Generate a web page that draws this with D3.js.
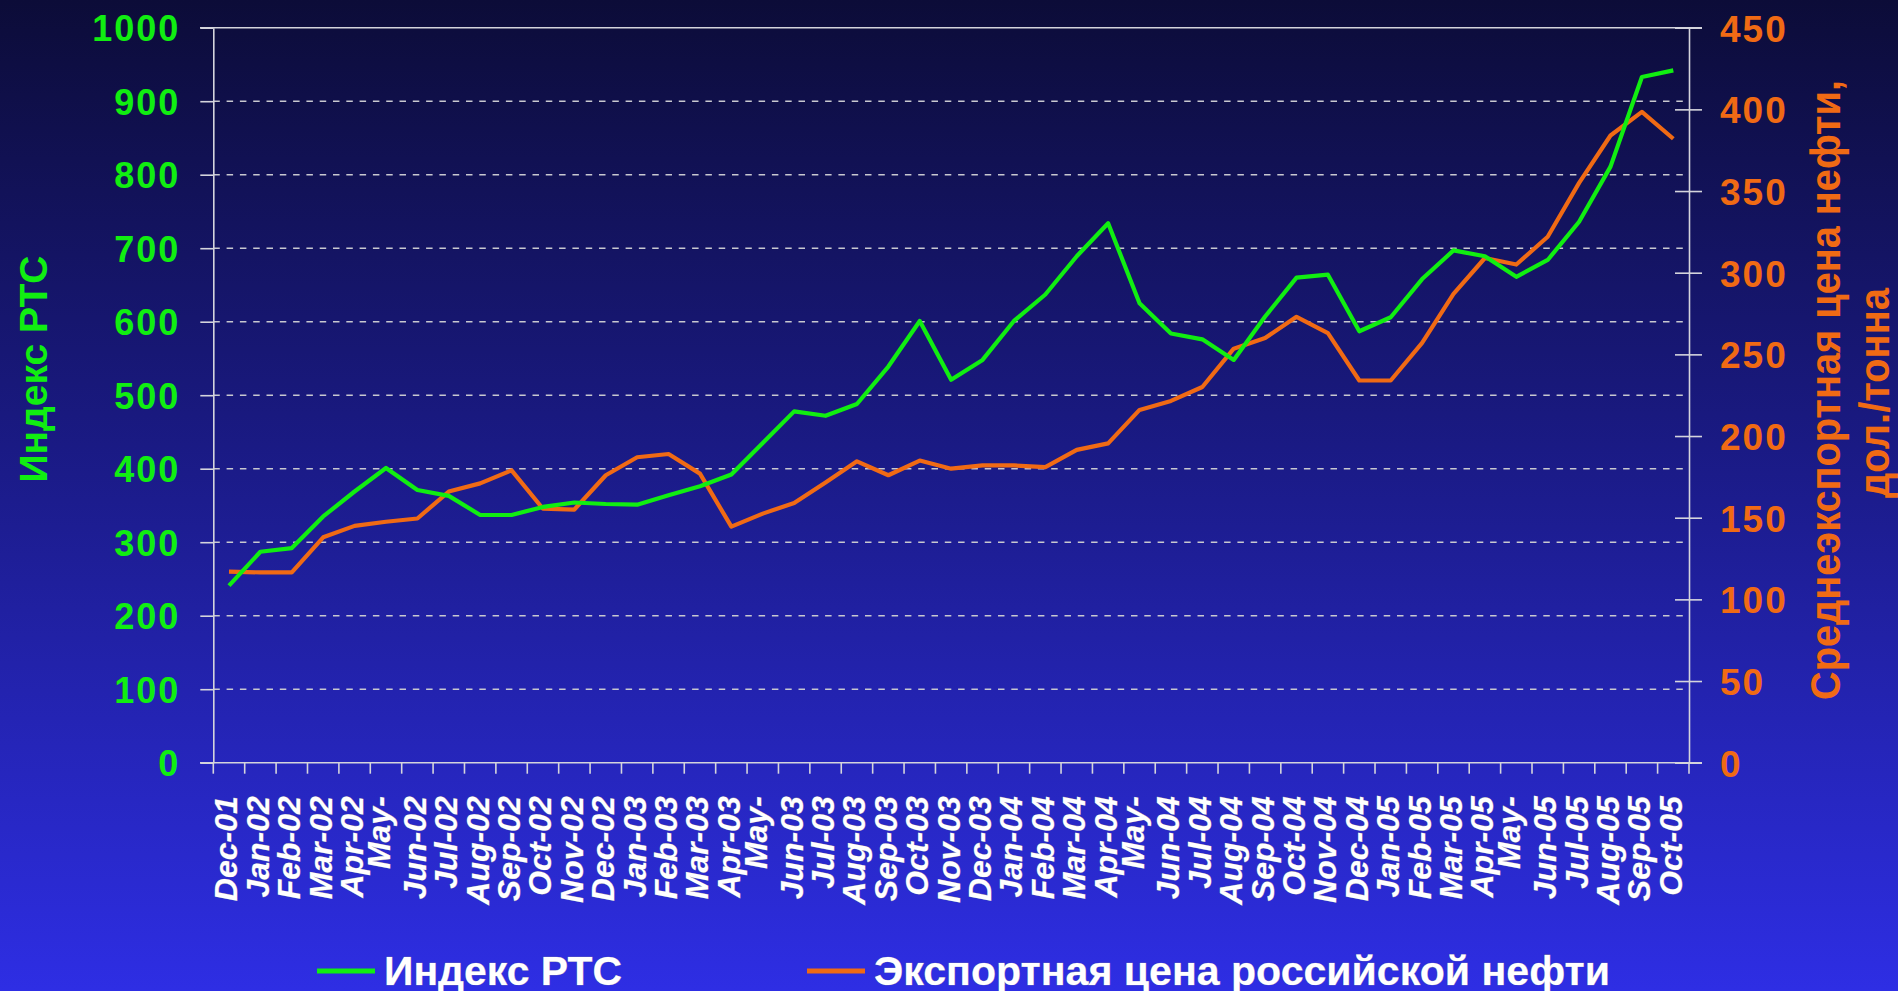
<!DOCTYPE html>
<html>
<head>
<meta charset="utf-8">
<script src="https://cdn.jsdelivr.net/npm/d3@7"></script>
<style>
  html, body { margin: 0; padding: 0; overflow: hidden; background: #14146a; }
  text { font-family: "Liberation Sans", Arial, sans-serif; font-weight: bold; }
</style>
</head>
<body>
<svg id="chart" width="1898" height="991"></svg>
<script>
var months = ["Dec-01","Jan-02","Feb-02","Mar-02","Apr-02","May-02","Jun-02","Jul-02","Aug-02","Sep-02","Oct-02","Nov-02",
  "Dec-02","Jan-03","Feb-03","Mar-03","Apr-03","May-03","Jun-03","Jul-03","Aug-03","Sep-03","Oct-03","Nov-03",
  "Dec-03","Jan-04","Feb-04","Mar-04","Apr-04","May-04","Jun-04","Jul-04","Aug-04","Sep-04","Oct-04","Nov-04",
  "Dec-04","Jan-05","Feb-05","Mar-05","Apr-05","May-05","Jun-05","Jul-05","Aug-05","Sep-05","Oct-05"];
// what the x axis actually shows (the May labels wrap and lose the year)
var tickLabels = ["Dec-01","Jan-02","Feb-02","Mar-02","Apr-02","May-","Jun-02","Jul-02","Aug-02","Sep-02","Oct-02","Nov-02",
  "Dec-02","Jan-03","Feb-03","Mar-03","Apr-03","May-","Jun-03","Jul-03","Aug-03","Sep-03","Oct-03","Nov-03",
  "Dec-03","Jan-04","Feb-04","Mar-04","Apr-04","May-","Jun-04","Jul-04","Aug-04","Sep-04","Oct-04","Nov-04",
  "Dec-04","Jan-05","Feb-05","Mar-05","Apr-05","May-","Jun-05","Jul-05","Aug-05","Sep-05","Oct-05"];

// Индекс РТС (left axis)
var rts = [241, 287, 292, 335, 369, 401, 371, 363, 337, 337, 348, 354,
  352, 351, 364, 376, 392, 435, 478, 472, 488, 539, 601, 521,
  548, 601, 637, 689, 734, 625, 584, 576, 548, 607, 660, 664,
  587, 606, 658, 697, 689, 661, 684, 736, 811, 933, 942];

// экспортная цена нефти, дол./тонна (right axis)
var oil = [117, 116.5, 116.5, 138, 145, 147.5, 149.5, 166, 171, 179, 155.5, 155,
  176, 187, 189, 177, 144.5, 152.5, 159, 171.5, 184.5, 176, 185, 180,
  182, 182, 181, 191.5, 195.5, 216, 221.5, 230, 253.5, 260, 273, 263,
  234, 234, 257, 287, 309, 305, 322, 355, 384, 398.5, 382];

var leftTicks = [0, 100, 200, 300, 400, 500, 600, 700, 800, 900, 1000];
var rightTicks = [0, 50, 100, 150, 200, 250, 300, 350, 400, 450];

var plotLeft = 213.3, plotRight = 1689, plotTop = 27.7, plotBottom = 762.7;
var green = "#11ee11", orange = "#f06a14", axisColor = "#d4d4dc";

var svg = d3.select("#chart");

var grad = svg.append("defs").append("linearGradient")
    .attr("id", "bg").attr("x1", 0).attr("y1", 0).attr("x2", 0).attr("y2", 1);
grad.append("stop").attr("offset", "0%").attr("stop-color", "#0c0c38");
grad.append("stop").attr("offset", "45%").attr("stop-color", "#1a1a84");
grad.append("stop").attr("offset", "100%").attr("stop-color", "#2e2ee4");
svg.append("rect").attr("width", 1898).attr("height", 991).attr("fill", "url(#bg)");

var x = d3.scaleBand().domain(months).range([plotLeft, plotRight]);
var bw = x.bandwidth();
var yL = d3.scaleLinear().domain([0, 1000]).range([plotBottom, plotTop]);
var yR = d3.scaleLinear().domain([0, 450]).range([plotBottom, plotTop]);

// dashed gridlines
svg.append("g").selectAll("line")
  .data(leftTicks.filter(function(d) { return d > 0 && d < 1000; }))
  .enter().append("line")
    .attr("x1", plotLeft).attr("x2", plotRight)
    .attr("y1", function(d) { return yL(d); })
    .attr("y2", function(d) { return yL(d); })
    .style("stroke", "#c8c8d0").style("stroke-width", 1.6)
    .style("stroke-dasharray", "6.5,6.8");

// top and bottom frame lines run past both axes
[1000, 0].forEach(function(v) {
  svg.append("line")
    .attr("x1", 200).attr("x2", 1702)
    .attr("y1", yL(v)).attr("y2", yL(v))
    .style("stroke", axisColor).style("stroke-width", 1.6);
});

// left axis
var gLeft = svg.append("g").attr("transform", "translate(" + plotLeft + ",0)")
    .call(d3.axisLeft(yL).tickValues(leftTicks).tickFormat(d3.format("d"))
      .tickSize(13).tickSizeOuter(0).tickPadding(20));
gLeft.select(".domain").style("stroke", axisColor).style("stroke-width", 1.6);
gLeft.selectAll(".tick line").style("stroke", axisColor).style("stroke-width", 1.6);
gLeft.selectAll(".tick text")
    .attr("dy", "0.36em")
    .style("font-size", "36px").style("letter-spacing", "2px")
    .style("fill", green);

// right axis, ticks cross the axis line
var gRight = svg.append("g").attr("transform", "translate(" + plotRight + ",0)")
    .call(d3.axisRight(yR).tickValues(rightTicks).tickFormat(d3.format("d"))
      .tickSize(13).tickSizeOuter(0).tickPadding(18));
gRight.select(".domain").style("stroke", axisColor).style("stroke-width", 1.6);
gRight.selectAll(".tick line").attr("x1", -14).style("stroke", axisColor).style("stroke-width", 1.6);
gRight.selectAll(".tick text")
    .attr("dy", "0.36em")
    .style("font-size", "37px").style("letter-spacing", "2px")
    .style("fill", orange);

// category axis: ticks at the band edges
svg.append("g").selectAll("line")
  .data(months.concat(["end"]))
  .enter().append("line")
    .attr("x1", function(d) { return d === "end" ? plotRight : x(d); })
    .attr("x2", function(d) { return d === "end" ? plotRight : x(d); })
    .attr("y1", plotBottom).attr("y2", plotBottom + 11)
    .style("stroke", axisColor).style("stroke-width", 1.6);

var gBottom = svg.append("g").attr("transform", "translate(0," + plotBottom + ")")
    .call(d3.axisBottom(x).tickSize(0).tickFormat(function(d, i) { return tickLabels[i]; }));
gBottom.select(".domain").remove();
gBottom.selectAll(".tick text")
    .attr("transform", "rotate(-90)")
    .attr("dy", 0)
    .attr("x", -33.5)
    .attr("y", function(d, i) { return tickLabels[i] === "May-" ? 4 : 8.5; })
    .style("text-anchor", "end")
    .style("font-size", "32px").style("font-style", "italic")
    .style("fill", "#ffffff")
    .style("stroke", "#8888a0").style("stroke-width", 0.6).style("paint-order", "stroke");

// lines
var lineL = d3.line()
    .x(function(d, i) { return x(months[i]) + bw / 2; })
    .y(function(d) { return yL(d); });
var lineR = d3.line()
    .x(function(d, i) { return x(months[i]) + bw / 2; })
    .y(function(d) { return yR(d); });

svg.append("path").datum(oil)
    .attr("d", lineR)
    .style("fill", "none").style("stroke", orange).style("stroke-width", 4.2)
    .style("stroke-linejoin", "round");
svg.append("path").datum(rts)
    .attr("d", lineL)
    .style("fill", "none").style("stroke", green).style("stroke-width", 4.2)
    .style("stroke-linejoin", "round");

// axis titles
svg.append("text")
    .attr("transform", "translate(47,369) rotate(-90)")
    .style("text-anchor", "middle").style("font-size", "39px")
    .style("fill", green)
    .text("Индекс РТС");

svg.append("text")
    .attr("transform", "translate(1840,390) rotate(-90)")
    .attr("textLength", 620).attr("lengthAdjust", "spacingAndGlyphs")
    .style("text-anchor", "middle").style("font-size", "42px")
    .style("fill", orange)
    .text("Среднеэкспортная цена нефти,");
svg.append("text")
    .attr("transform", "translate(1889,393) rotate(-90)")
    .attr("textLength", 210).attr("lengthAdjust", "spacingAndGlyphs")
    .style("text-anchor", "middle").style("font-size", "42px")
    .style("fill", orange)
    .text("дол./тонна");

// legend
var legend = [
  {name: "Индекс РТС", color: green, x: 317, width: 238},
  {name: "Экспортная цена российской нефти", color: orange, x: 807, width: 736}
];
var lg = svg.append("g").selectAll("g").data(legend).enter().append("g");
lg.append("line")
    .attr("x1", function(d) { return d.x; })
    .attr("x2", function(d) { return d.x + 58; })
    .attr("y1", 971).attr("y2", 971)
    .style("stroke", function(d) { return d.color; }).style("stroke-width", 5);
lg.append("text")
    .attr("x", function(d) { return d.x + 67; })
    .attr("y", 985)
    .attr("textLength", function(d) { return d.width; })
    .attr("lengthAdjust", "spacingAndGlyphs")
    .style("font-size", "40px").style("fill", "#ffffff")
    .style("stroke", "#8888a0").style("stroke-width", 0.6).style("paint-order", "stroke")
    .text(function(d) { return d.name; });
</script>
</body>
</html>
